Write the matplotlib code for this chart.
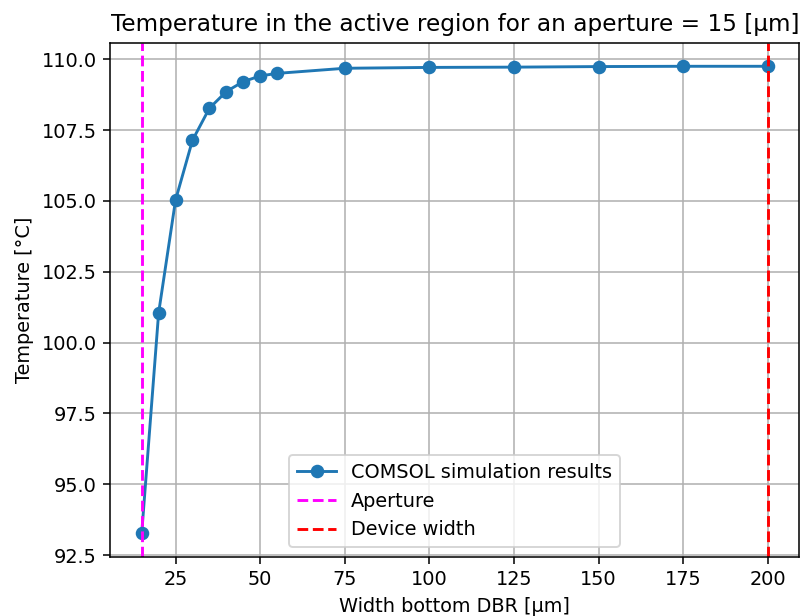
import matplotlib
matplotlib.use("Agg")
import matplotlib.pyplot as plt

# Bottom DBR width sweep [um] and resulting active-region temperature [degC]
width_dbr = [15, 20, 25, 30, 35, 40, 45, 50, 55, 75, 100, 125, 150, 175, 200]
temperature = [93.27, 101.05, 105.03, 107.14, 108.27, 108.86, 109.21, 109.41,
               109.50, 109.68, 109.71, 109.72, 109.74, 109.75, 109.75]

aperture = 15
device_width = 200


def draw():
    dpi = 139
    fig = plt.figure(figsize=(800 / dpi, 616 / dpi), dpi=dpi)
    ax = fig.add_axes([0.138, 0.0963, 0.861, 0.834])

    ax.plot(width_dbr, temperature, marker='o', label='COMSOL simulation results')
    ax.axvline(aperture, color='magenta', linestyle='--', label='Aperture')
    ax.axvline(device_width, color='red', linestyle='--', label='Device width')

    ax.set_xlabel('Width bottom DBR [µm]')
    ax.set_ylabel('Temperature [°C]')
    ax.set_title('Temperature in the active region for an aperture = %d [µm]' % aperture)
    ax.legend(loc='lower center')
    ax.grid(True)

    fig.savefig('out.png', dpi=dpi)
    plt.close(fig)


if __name__ == "__main__":
    draw()
